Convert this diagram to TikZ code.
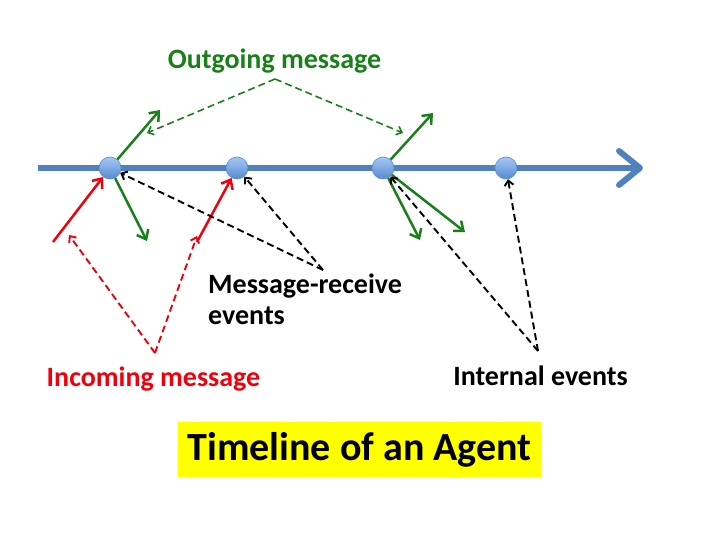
\documentclass[tikz,border=0pt]{standalone}
\usepackage{fontspec}
\setmainfont{Carlito}
\usetikzlibrary{arrows.meta}

\newlength{\du}
\setlength{\du}{1pt}

\definecolor{lineblue}{RGB}{79,129,189}
\definecolor{ballhi}{RGB}{165,200,245}
\definecolor{balllo}{RGB}{86,138,208}
\definecolor{msggreen}{RGB}{24,128,24}
\definecolor{msgred}{RGB}{240,0,10}
\definecolor{titleyellow}{RGB}{255,255,0}

\tikzset{
  timeline/.style={draw=lineblue, line width=6\du, -{Straight Barb[length=21pt,width=34pt,round]}},
  event/.style={circle, minimum size=22\du, inner sep=0pt, draw=balllo, line width=0.6\du, top color=ballhi, bottom color=balllo},
  outmsg/.style={draw=msggreen, line width=2.5\du, -{Straight Barb[length=8pt,width=13pt]}},
  inmsg/.style={draw=msgred, line width=2.5\du, -{Straight Barb[length=8pt,width=13pt]}},
  pointer/.style={line width=1.9\du, dash pattern=on 7\du off 4\du, -{Straight Barb[length=5pt,width=9pt]}},
  msglabel/.style={font=\fontsize{28}{31}\selectfont\bfseries, inner sep=0pt},
  titlebox/.style={fill=titleyellow, minimum width=363\du, minimum height=55\du, inner sep=0pt, font=\fontsize{40}{48}\selectfont\bfseries},
}

\begin{document}
\begin{tikzpicture}
\pgftransformyscale{-1.000000}
\useasboundingbox (0\du,0\du) rectangle (720\du,540\du);
% time axis
\coordinate (t0) at (38\du,168\du);
\coordinate (t1) at (643\du,168\du);
\draw[timeline] (t0)--(t1);
% events
\node[event] (e1) at (110\du,168\du) {};
\node[event] (e2) at (237\du,168\du) {};
\node[event] (e3) at (383\du,168\du) {};
\node[event] (e4) at (506\du,168\du) {};
% outgoing messages
\coordinate (o1) at (160\du,110\du);
\coordinate (o2) at (147\du,241\du);
\coordinate (o3) at (433\du,113\du);
\coordinate (o4) at (420\du,240\du);
\coordinate (o5) at (465\du,232\du);
\draw[outmsg] (e1)--(o1);
\draw[outmsg] (e1)--(o2);
\draw[outmsg] (e3)--(o3);
\draw[outmsg] (e3)--(o4);
\draw[outmsg] (e3)--(o5);
% incoming messages
\coordinate (i1) at (53\du,242\du);
\coordinate (i2) at (197\du,242\du);
\draw[inmsg] (i1)--(e1);
\draw[inmsg] (i2)--(e2);
% labels
\node[msglabel, text=msggreen, anchor=base] (outlbl) at (274.5\du,69\du) {Outgoing message};
\node[msglabel, anchor=north west, align=left] (mrlbl) at (208\du,274\du) {Message-receive\\events};
\node[msglabel, text=msgred, anchor=base] (inlbl) at (153.5\du,386\du) {Incoming message};
\node[msglabel, anchor=base] (intlbl) at (540.5\du,385\du) {Internal events};
\node[titlebox] (title) at (359.5\du,449.5\du) {Timeline of an Agent};
% pointers
\coordinate (outtip) at (275\du,79\du);
\coordinate (og1) at (147\du,133\du);
\coordinate (og2) at (403\du,133\du);
\draw[pointer, draw=msggreen, line width=1.6\du] (outtip)--(og1);
\draw[pointer, draw=msggreen, line width=1.6\du] (outtip)--(og2);
\coordinate (mrtip) at (323\du,270\du);
\draw[pointer] (mrtip)--(e1);
\draw[pointer] (mrtip)--(e2);
\coordinate (inttip) at (538\du,351\du);
\draw[pointer] (inttip)--(e3);
\draw[pointer] (inttip)--(e4);
\coordinate (inctip) at (155\du,353\du);
\coordinate (ir1) at (69\du,235\du);
\coordinate (ir2) at (197\du,236\du);
\draw[pointer, draw=msgred] (inctip)--(ir1);
\draw[pointer, draw=msgred] (inctip)--(ir2);
\end{tikzpicture}
\end{document}
